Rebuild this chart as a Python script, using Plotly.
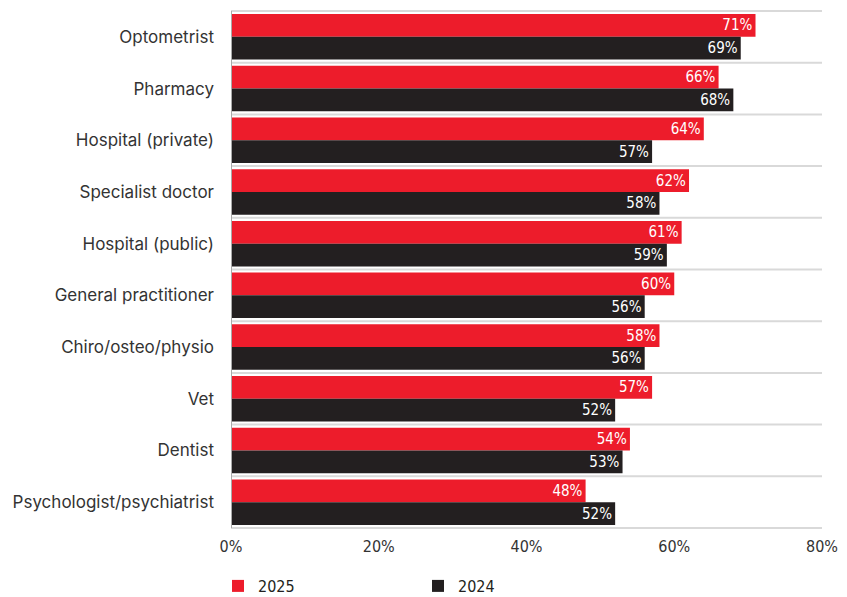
import plotly.graph_objects as go

categories = ["Optometrist", "Pharmacy", "Hospital (private)", "Specialist doctor",
              "Hospital (public)", "General practitioner", "Chiro/osteo/physio", "Vet",
              "Dentist", "Psychologist/psychiatrist"]
values_2025 = [71, 66, 64, 62, 61, 60, 58, 57, 54, 48]
values_2024 = [69, 68, 57, 58, 59, 56, 56, 52, 53, 52]
x_ticks = [0, 20, 40, 60, 80]

RED = "#ED1C2B"
BLACK = "#231F20"
NARROW = "Liberation Sans Narrow, DejaVu Sans Condensed, Roboto Condensed, Roboto, sans-serif"
label_font = dict(family=NARROW, size=15, color="white")

W, H = 839, 589  # page body has an 8px margin

fig = go.Figure()
fig.add_trace(go.Bar(y=categories, x=values_2025, orientation="h", name="2025",
                     marker=dict(color=RED, line=dict(width=0)),
                     text=[f"{v}%" for v in values_2025], textposition="inside",
                     insidetextanchor="end", textfont=label_font, textangle=0,
                     constraintext="none"))
fig.add_trace(go.Bar(y=categories, x=values_2024, orientation="h", name="2024",
                     marker=dict(color=BLACK, line=dict(width=0)),
                     text=[f"{v}%" for v in values_2024], textposition="inside",
                     insidetextanchor="end", textfont=label_font, textangle=0,
                     constraintext="none"))

shapes = []
for i in range(len(categories) + 1):
    shapes.append(dict(type="line", xref="x", yref="y", x0=0, x1=80,
                       y0=i - 0.5, y1=i - 0.5, line=dict(color="#D9D9D9", width=2),
                       layer="below"))
shapes.append(dict(type="line", xref="x", yref="y", x0=0, x1=0,
                   y0=-0.5, y1=len(categories) - 0.5, line=dict(color="#AAAAAA", width=2),
                   layer="above"))

fig.update_layout(
    width=W, height=H,
    margin=dict(l=223, r=25, t=2, b=68, autoexpand=False),
    barmode="group", bargap=0.12, bargroupgap=0,
    plot_bgcolor="white", paper_bgcolor="white",
    shapes=shapes,
    showlegend=True,
    legend=dict(orientation="h", x=-0.022, xanchor="left",
                yref="container", y=(H - 578) / H, yanchor="middle",
                entrywidth=155, entrywidthmode="pixels",
                font=dict(family=NARROW, size=16, color="#231F20"),
                itemwidth=30, traceorder="normal"),
    font=dict(family="Inter, Roboto, sans-serif", color="#333333"),
)
fig.update_xaxes(range=[0, 80], tickvals=x_ticks, ticktext=[f"{t}%" for t in x_ticks],
                 showgrid=False, zeroline=False, showline=False, automargin=False,
                 tickfont=dict(family=NARROW, size=16, color="#333333"),
                 ticks="", ticklabelstandoff=6)
fig.update_yaxes(autorange="reversed", showgrid=False, zeroline=False, showline=False,
                 automargin=False,
                 tickfont=dict(family="Inter, Roboto, sans-serif", size=17, color="#333333"),
                 ticks="", ticklabelstandoff=16)

fig.write_html("out.html")
